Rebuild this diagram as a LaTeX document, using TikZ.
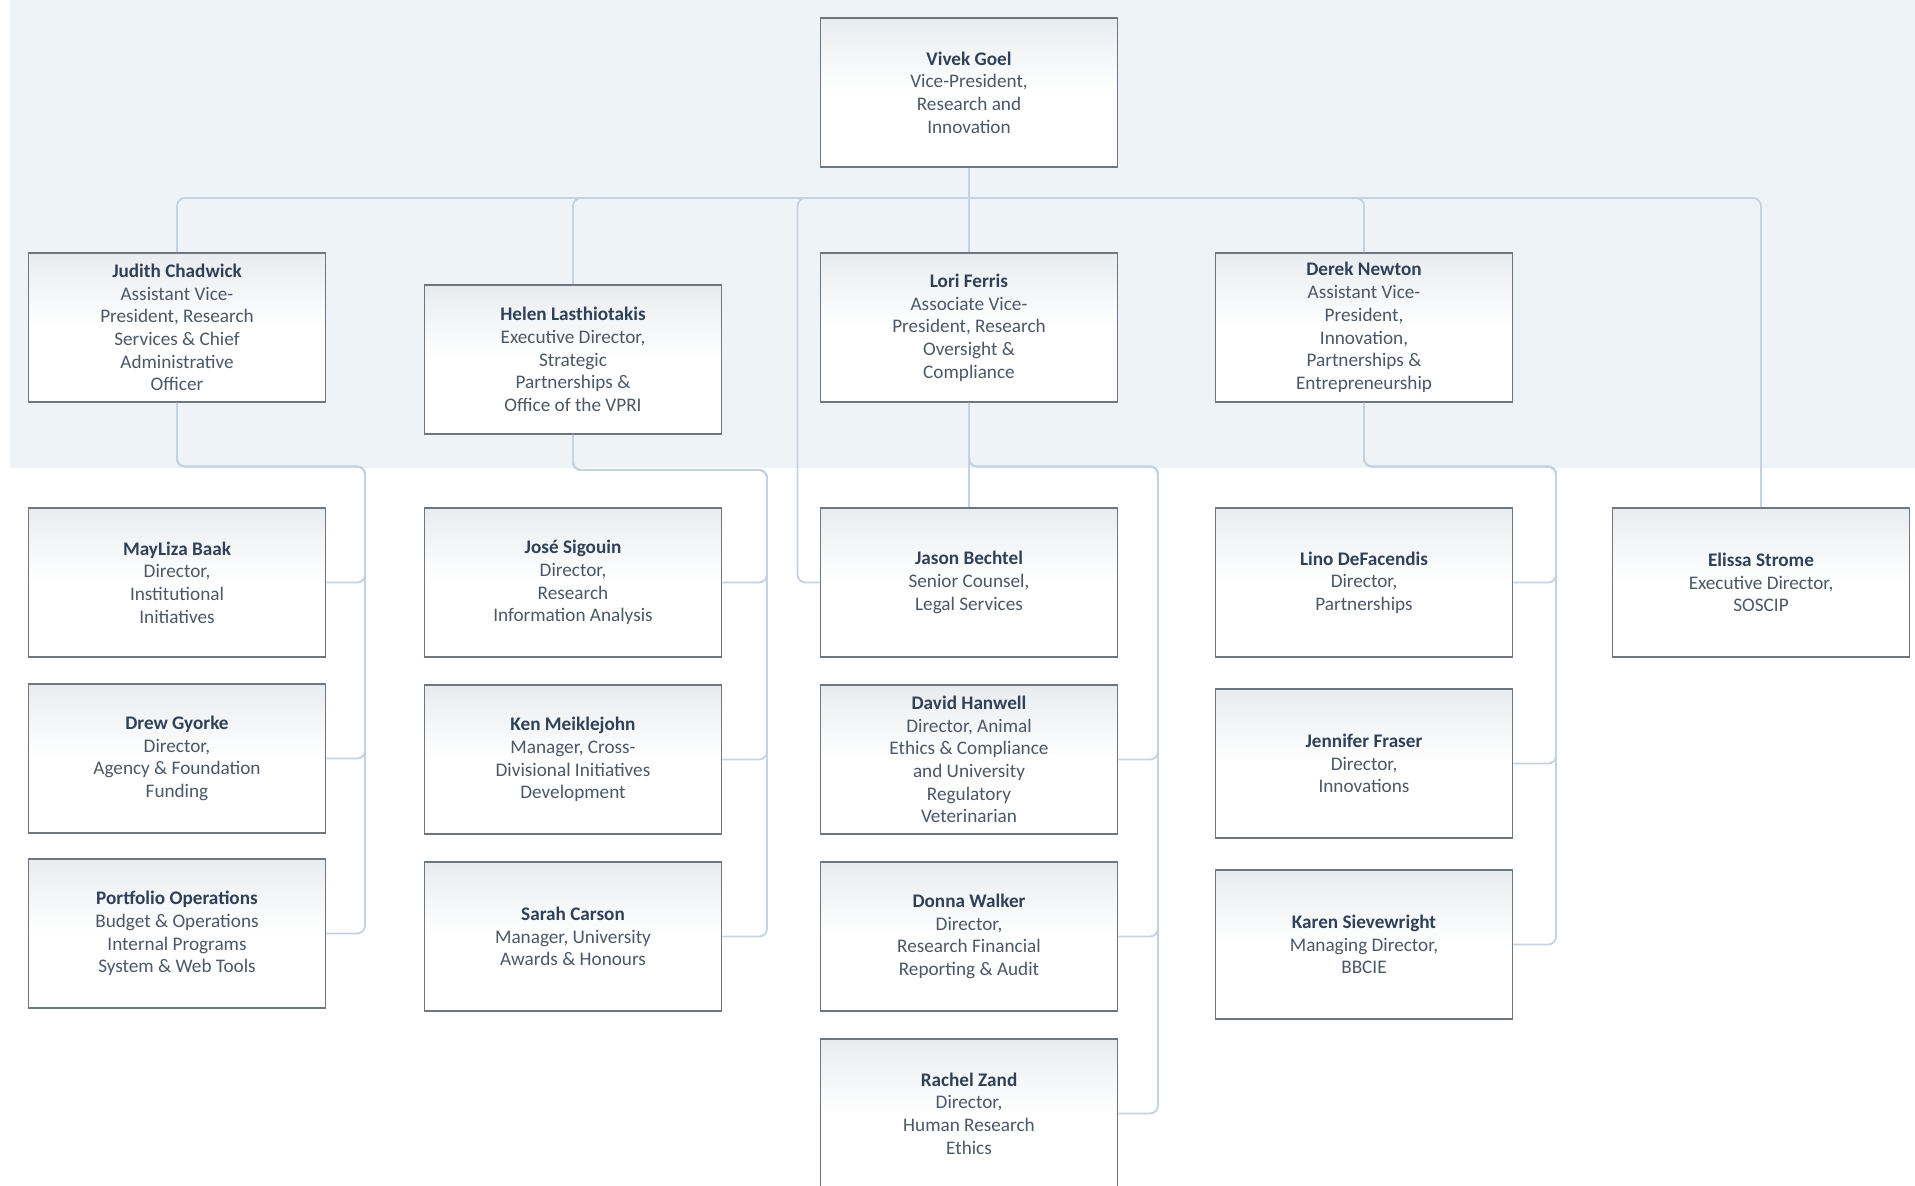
\documentclass[tikz,border=0pt]{standalone}
\usepackage{fontspec}
\setmainfont{Carlito}
\usetikzlibrary{positioning,calc}
\definecolor{bandblue}{HTML}{EEF3F8}
\definecolor{linkblue}{HTML}{C3D3E3}
\definecolor{boxline}{HTML}{6E7780}
\definecolor{boxtint}{HTML}{E9ECEF}
\definecolor{namecol}{HTML}{2E4159}
\definecolor{textcol}{HTML}{4B5867}
\tikzset{staff/.style={draw=boxline, line width=0.9pt, top color=boxtint, bottom color=white,
                       middle color=white, minimum width=148.5pt, minimum height=74.5pt, inner sep=2pt,
                       align=center, text=textcol, font=\fontsize{9.6}{11.35}\selectfont},
         link/.style={draw=linkblue, line width=0.9pt, rounded corners=4pt},
         band/.style={fill=bandblue, draw=none}
}
\newcommand{\pname}[1]{\textcolor{namecol}{\textbf{#1}}}

\begin{document}
\begin{tikzpicture}[x=0.5pt, y=-0.5pt]
    \useasboundingbox (0,0) rectangle (1915,1185);
    \clip (0,0) rectangle (1915,1185);
    \fill[white] (0,0) rectangle (1915,1185);
    \path[band] (10,0) rectangle (1915,468);
            %                 VG
            %   JC     HL     LF     DN
            %   MB     JS     JB     LD     ES
            %   DG     KM     DH     JF
            %   PO     SC     DW     KS
            %                 RZ
        \node[staff] (VG) at (969,92.5)   {\pname{Vivek Goel}\\Vice-President,\\Research and\\Innovation};
        \node[staff] (JC) at (177,327.5)  {\pname{Judith Chadwick}\\Assistant Vice-\\President, Research\\Services \& Chief\\Administrative\\Officer};
        \node[staff] (HL) at (573,359.5)  {\pname{Helen Lasthiotakis}\\Executive Director,\\Strategic\\Partnerships \&\\Office of the VPRI};
        \node[staff] (LF) at (969,327.5)  {\pname{Lori Ferris}\\Associate Vice-\\President, Research\\Oversight \&\\Compliance};
        \node[staff] (DN) at (1364,327.5) {\pname{Derek Newton}\\Assistant Vice-\\President,\\Innovation,\\Partnerships \&\\Entrepreneurship};
        \node[staff] (MB) at (177,582.5)  {\pname{MayLiza Baak}\\Director,\\Institutional\\Initiatives};
        \node[staff] (DG) at (177,758.5)  {\pname{Drew Gyorke}\\Director,\\Agency \& Foundation\\Funding};
        \node[staff] (PO) at (177,933.5)  {\pname{Portfolio Operations}\\Budget \& Operations\\Internal Programs\\System \& Web Tools};
        \node[staff] (JS) at (573,582.5)  {\pname{José Sigouin}\\Director,\\Research\\Information Analysis};
        \node[staff] (KM) at (573,759.5)  {\pname{Ken Meiklejohn}\\Manager, Cross-\\Divisional Initiatives\\Development};
        \node[staff] (SC) at (573,936.5)  {\pname{Sarah Carson}\\Manager, University\\Awards \& Honours};
        \node[staff] (JB) at (969,582.5)  {\pname{Jason Bechtel}\\Senior Counsel,\\Legal Services};
        \node[staff] (DH) at (969,759.5)  {\pname{David Hanwell}\\Director, Animal\\Ethics \& Compliance\\and University\\Regulatory\\Veterinarian};
        \node[staff] (DW) at (969,936.5)  {\pname{Donna Walker}\\Director,\\Research Financial\\Reporting \& Audit};
        \node[staff] (RZ) at (969,1113.5) {\pname{Rachel Zand}\\Director,\\Human Research\\Ethics};
        \node[staff] (LD) at (1364,582.5) {\pname{Lino DeFacendis}\\Director,\\Partnerships};
        \node[staff] (JF) at (1364,763.5) {\pname{Jennifer Fraser}\\Director,\\Innovations};
        \node[staff] (KS) at (1364,944.5) {\pname{Karen Sievewright}\\Managing Director,\\BBCIE};
        \node[staff] (ES) at (1761,582.5) {\pname{Elissa Strome}\\Executive Director,\\SOSCIP};
    % top bus
    \coordinate (bus) at (969,198);
    \coordinate (jv)  at (797.5,198);
    \draw[link] (VG.south) -- (LF.north);
    \foreach \t in {JC,HL,DN,ES}
        \draw[link] (bus) -| (\t.north);
    \draw[link] (bus) -- (jv) |- (JB.west);
    % trunks to the reports
    \coordinate (jc) at (365,466.5);
    \coordinate (hc) at (767,470);
    \coordinate (lc) at (1158,466.5);
    \coordinate (dc) at (1556,466.5);
    \foreach \r in {MB,DG,PO}
        \draw[link] (JC.south) |- (jc) |- (\r.east);
    \foreach \r in {JS,KM,SC}
        \draw[link] (HL.south) |- (hc) |- (\r.east);
    \foreach \r in {DH,DW,RZ}
        \draw[link] (LF.south) |- (lc) |- (\r.east);
    \draw[link] (LF.south) -- (JB.north);
    \foreach \r in {LD,JF,KS}
        \draw[link] (DN.south) |- (dc) |- (\r.east);
\end{tikzpicture}
\end{document}
